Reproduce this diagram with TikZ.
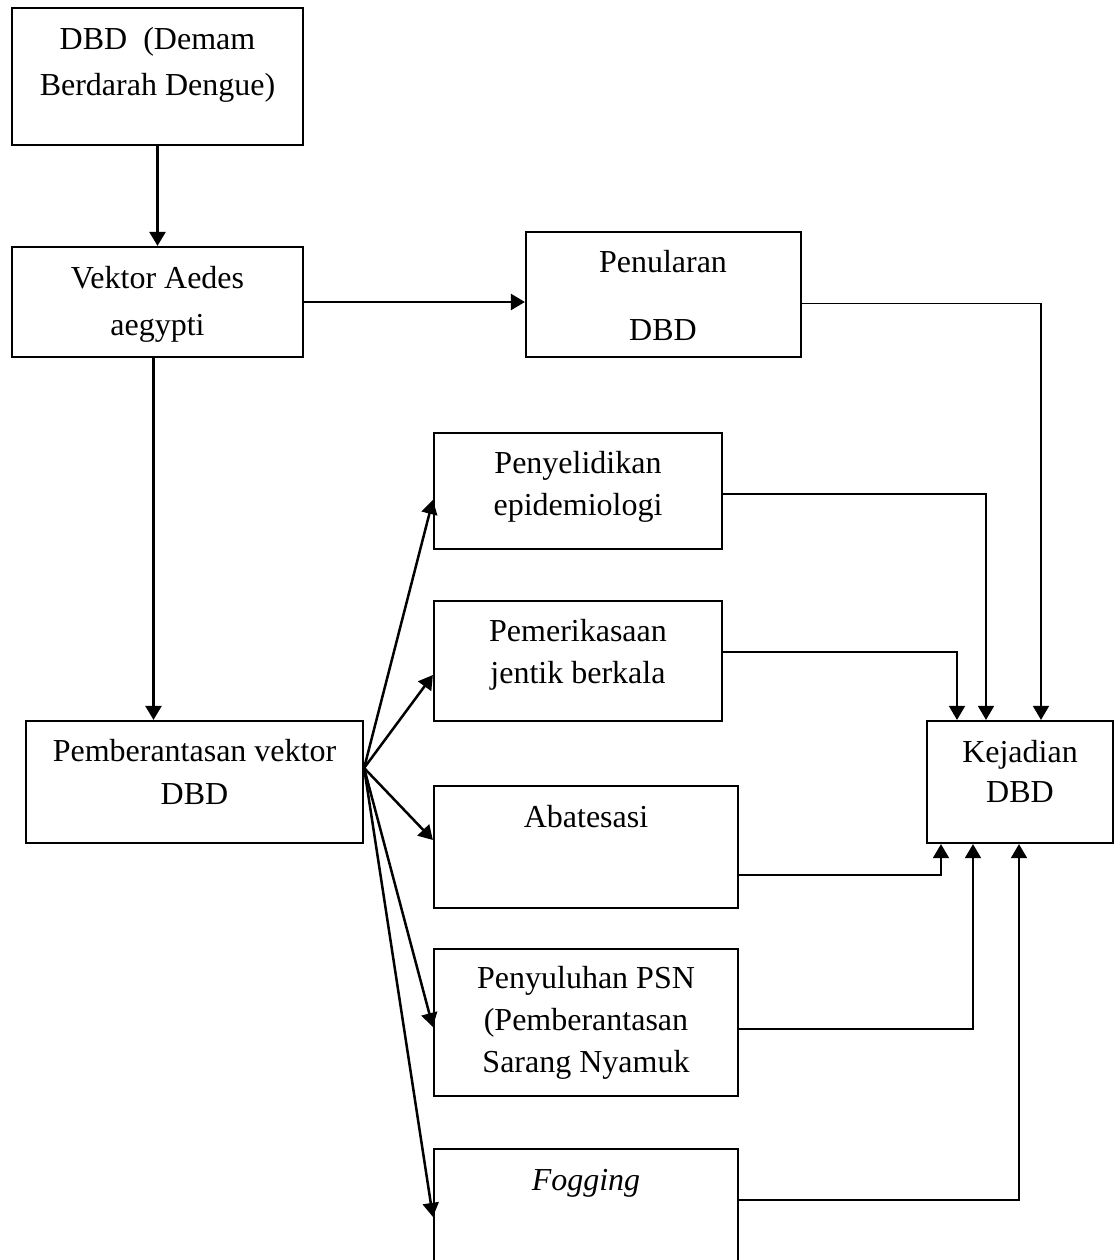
\documentclass[tikz,border=0pt]{standalone}
\usepackage{fontspec}
\setmainfont{Liberation Serif}
\usetikzlibrary{arrows.meta,fit}
\tikzset{
  box/.style={draw=black, line width=1.1pt, inner sep=0pt},
  lab/.style={font=\fontsize{16}{21}\selectfont, align=center, anchor=base, inner sep=0pt},
  arr/.style={draw=black, line width=1.25pt, -{Triangle[length=7pt,width=8pt]}},
  link/.style={draw=black, line width=0.9pt, -{Triangle[length=7pt,width=8pt]}},
}
\begin{document}
\begin{tikzpicture}[x=0.5pt,y=-0.5pt]
  \useasboundingbox (0,0) rectangle (1120,1260);
  % boxes
  \node[box, fit={(12,8)(303,145)}] (dbd) {};
  \node[box, fit={(12,247)(303,357)}] (vektor) {};
  \node[box, fit={(526,232)(801,357)}] (penularan) {};
  \node[box, fit={(434,433)(722,549)}] (selidik) {};
  \node[box, fit={(434,601)(722,721)}] (jentik) {};
  \node[box, fit={(26,721)(363,843)}] (berantas) {};
  \node[box, fit={(434,786)(738,908)}] (abate) {};
  \node[box, fit={(434,949)(738,1096)}] (suluh) {};
  \node[box, fit={(434,1149)(738,1300)}] (fogging) {};
  \node[box, fit={(927,721)(1113,843)}] (kejadian) {};
  % texts (placed at the baseline of the last line)
  \node[lab] (dbd-t) at (157.5,95) {DBD\ \ (Demam\\[2pt]Berdarah Dengue)};
  \node[lab] (vektor-t) at (157.5,335) {Vektor Aedes\\[2.5pt]aegypti};
  \node[lab] (penularan-t) at (663,340) {Penularan\\[13pt]DBD};
  \node[lab] (selidik-t) at (578,515) {Penyelidikan\\epidemiologi};
  \node[lab] (jentik-t) at (578,683) {Pemerikasaan\\jentik berkala};
  \node[lab] (berantas-t) at (194.5,804) {Pemberantasan vektor\\[0.5pt]DBD};
  \node[lab] (abate-t) at (586,827) {Abatesasi};
  \node[lab] (suluh-t) at (586,1072) {Penyuluhan PSN\\(Pemberantasan\\Sarang Nyamuk};
  \node[lab] (fogging-t) at (586,1190) {\textit{Fogging}};
  \node[lab] (kejadian-t) at (1020,802) {Kejadian\\[-1pt]DBD};
  % left column
  \draw[arr] (dbd) -- (vektor);
  \draw[arr] ([xshift=-2pt]vektor.south) -- ([xshift=-2pt]vektor.south |- berantas.north);
  \draw[arr] (vektor.east) -- (penularan.west |- vektor.east);
  % fan out of the eradication box
  \coordinate (fan) at ([yshift=7pt]berantas.east);
  \foreach \t/\s in {selidik/-4.5pt, jentik/-7pt, abate/3.5pt, suluh/-2.25pt}
    \draw[arr] (fan) -- ([yshift=\s]\t.west);
  \draw[arr] (fan) -- ([yshift=-34.5pt]fogging.north west);
  % into the outcome box
  \draw[link] ([yshift=-4.5pt]penularan.east) -| ([xshift=10.5pt]kejadian.north);
  \draw[link] ([yshift=-1.5pt]selidik.east) -| ([xshift=-17pt]kejadian.north);
  \draw[link] ([yshift=4.5pt]jentik.east) -| ([xshift=-31.5pt]kejadian.north);
  \draw[link] ([yshift=-14pt]abate.east) -| ([xshift=-39.5pt]kejadian.south);
  \draw[link] ([yshift=-3.25pt]suluh.east) -| ([xshift=-23.5pt]kejadian.south);
  \draw[link] ([yshift=-26pt]fogging.north east) -| ([xshift=-0.5pt]kejadian.south);
\end{tikzpicture}
\end{document}
